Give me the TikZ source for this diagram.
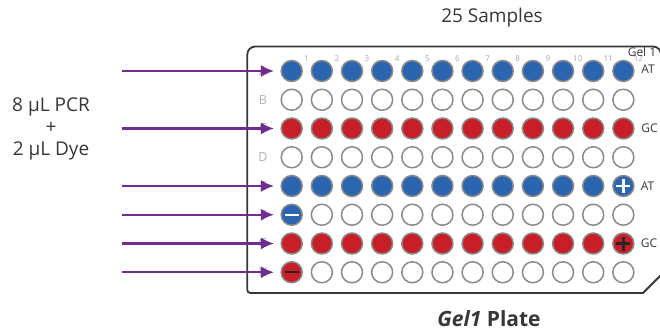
\documentclass[tikz,border=0pt]{standalone}
\usepackage{fontspec}
\setmainfont{Open Sans}
\usetikzlibrary{arrows.meta,calc,positioning}
\definecolor{wellblue}{RGB}{43,100,175}
\definecolor{wellred}{RGB}{200,30,40}
\definecolor{feedpurple}{RGB}{112,45,145}
\definecolor{rimgray}{RGB}{138,138,138}
\definecolor{inkgray}{RGB}{55,55,55}

\begin{document}
\begin{tikzpicture}[x=1pt,y=-1pt,
    well/.style={circle,draw=rimgray,line width=1.5pt,minimum size=21pt,inner sep=0pt},
    feed/.style={draw=feedpurple,line width=2.2pt,shorten >=6.5pt,-{Latex[length=13pt,width=12pt]}},
    plate/.style={draw=inkgray,line width=1.8pt},
    rowtag/.style={text=black!30,font=\fontsize{12.5}{14}\selectfont,inner sep=0pt},
    coltag/.style={text=black!35,font=\fontsize{8}{9}\selectfont,inner sep=0pt},
    tag/.style={text=inkgray,font=\fontsize{12}{14}\selectfont,inner sep=0pt},
    caption/.style={text=inkgray,font=\fontsize{19}{22}\selectfont,align=center}]
    \useasboundingbox (0,0) rectangle (660,331);
    \clip (0,0) rectangle (660,331);

    % plate outline
    \draw[plate] (661,275) -- (643,293) [rounded corners=3pt] -- (247.3,293)
      [rounded corners=8pt] -- (247.3,46.5) -- (661,46.5) -- (661,275);

    % wells, row by row
    \foreach \r/\colr/\n [count=\j from 0] in {A/wellblue/12,B/white/0,C/wellred/12,D/white/0,
        E/wellblue/12,F/wellblue/1,G/wellred/12,H/wellred/1} {
      \node[rowtag] (l\r) at (263,{71+\j*28.75}) {\r};
      \coordinate (s\r) at (122,{71+\j*28.75});
      \foreach \c in {1,...,12} {
        \ifnum\c>\n \def\fc{white}\else\def\fc{\colr}\fi
        \node[well,fill=\fc] (w\r\c) at ({291.7+(\c-1)*30.15},{71+\j*28.75}) {};
      }
    }
    \foreach \c in {1,...,12}
      \node[coltag] (n\c) at ($(wA\c)+(15,-12)$) {\c};

    % signs
    \draw[white,line width=2.5pt] ([xshift=-7pt]wE12.center) -- ([xshift=7pt]wE12.center)
      ([yshift=-7pt]wE12.center) -- ([yshift=7pt]wE12.center);
    \draw[white,line width=1.5pt] ([xshift=-7pt]wF1.center) -- ([xshift=7pt]wF1.center);
    \draw[black!85,line width=2.5pt] ([xshift=-7pt]wG12.center) -- ([xshift=7pt]wG12.center)
      ([yshift=-7pt]wG12.center) -- ([yshift=7pt]wG12.center);
    \draw[black!85,line width=2pt] ([xshift=-7pt]wH1.center) -- ([xshift=7pt]wH1.center);

    % loading arrows
    \foreach \r in {A,C,E,F,G,H}
      \draw[feed] (s\r) -- (w\r1);

    \node[tag,right=6.5pt of wA12,yshift=2pt] (atA) {AT};
    \node[tag,right=6.5pt of wC12] (gcC) {GC};
    \node[tag,right=6pt of wE12] (atE) {AT};
    \node[tag,right=6pt of wG12] (gcG) {GC};
    \node[tag] (gel) at (642,52) {Gel 1};

    \node[caption] (mix) at (51,129) {8 µL PCR\\+\\2 µL Dye};
    \node[caption] (count) at (492,18) {25 Samples};
    \node[text=inkgray,font=\fontsize{21}{24}\selectfont\bfseries] (name) at (489,319)
      {\itshape Gel1\upshape{} Plate};
\end{tikzpicture}
\end{document}
